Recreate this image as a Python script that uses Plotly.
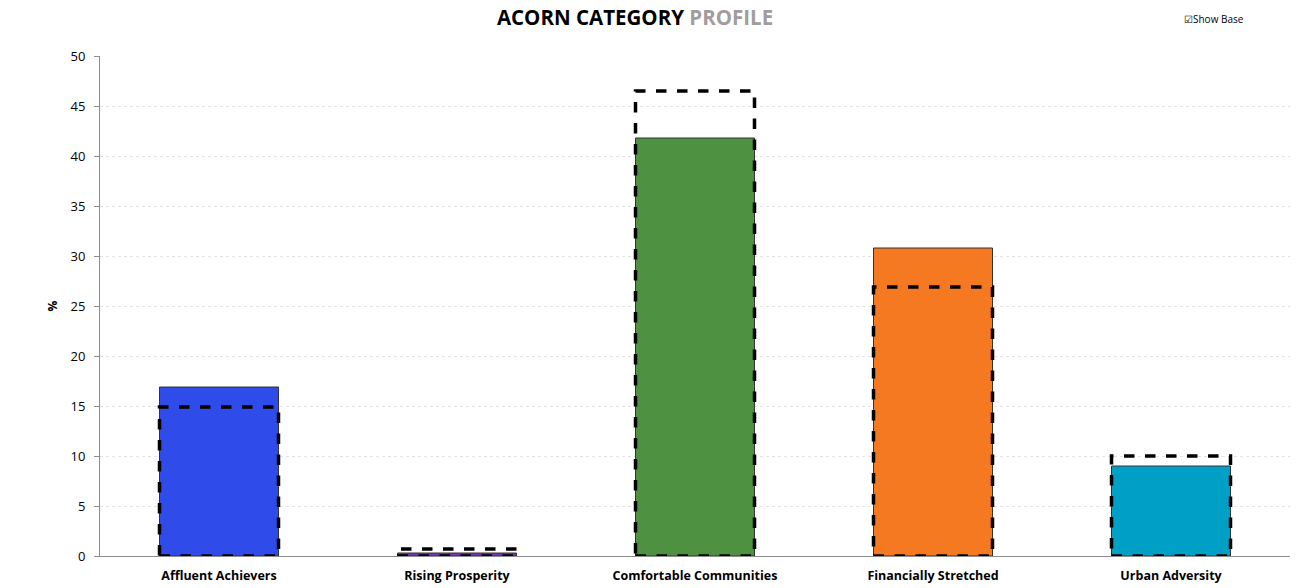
import plotly.graph_objects as go

categories = ["Affluent Achievers", "Rising Prosperity", "Comfortable Communities",
              "Financially Stretched", "Urban Adversity"]
profile_values = [16.9, 0.3, 41.8, 30.8, 9.0]
base_values = [14.9, 0.7, 46.5, 26.9, 10.0]
bar_colors = ["#2F4BEA", "#7A35B8", "#4E9141", "#F47920", "#00A0C6"]
y_ticks = [0, 5, 10, 15, 20, 25, 30, 35, 40, 45, 50]

FONT = "'Open Sans', Lato, sans-serif"
BAR_W = 0.5

fig = go.Figure()
fig.add_trace(go.Bar(
    x=categories, y=profile_values, width=BAR_W,
    marker=dict(color=bar_colors, line=dict(color="#333333", width=1)),
    showlegend=False, hoverinfo="x+y",
))

# dashed base outlines, positioned via the category axis
for i, b in enumerate(base_values):
    fig.add_shape(type="rect", xref="x", yref="y",
                  x0=i - BAR_W / 2, x1=i + BAR_W / 2, y0=0, y1=b,
                  line=dict(color="black", width=3.5, dash="dash"),
                  fillcolor="rgba(0,0,0,0)")

fig.update_layout(
    width=1298, height=588,
    margin=dict(l=100, r=8, t=56, b=32),
    paper_bgcolor="white", plot_bgcolor="white",
    font=dict(family=FONT, size=12, color="black"),
    title=dict(text="<b>ACORN CATEGORY </b><b><span style='color:#A39C9C'>PROFILE</span></b>",
               xref="paper", x=(635 - 100) / 1190, xanchor="center",
               yref="container", y=1 - 18 / 588, yanchor="middle",
               font=dict(family=FONT, size=20.5, color="black", weight="bold")),
    xaxis=dict(showline=True, linecolor="#8c8c8c", linewidth=1, automargin=False,
               tickfont=dict(family=FONT, size=12.5, color="black", weight="bold"),
               ticklabelstandoff=8,
               ticks="", showgrid=False),
    yaxis=dict(range=[0, 50], tickvals=y_ticks, showline=True, linecolor="#8c8c8c",
               automargin=False,
               ticks="outside", ticklen=5, tickcolor="#8c8c8c",
               ticklabelstandoff=6,
               tickfont=dict(family=FONT, size=13, color="black"),
               showgrid=True, gridcolor="#e3e3e3", griddash="dot", gridwidth=1,
               zeroline=False,
               title=dict(text="<b>%</b>", standoff=10, font=dict(family=FONT, size=12))),
)

fig.add_annotation(text="☑Show Base", xref="paper", yref="paper",
                   x=(1182 - 100) / 1190, y=1 + (56 - 19) / 500,
                   xanchor="left", yanchor="middle",
                   showarrow=False, font=dict(family=FONT, size=10, color="black"))

fig.write_html("out.html")
